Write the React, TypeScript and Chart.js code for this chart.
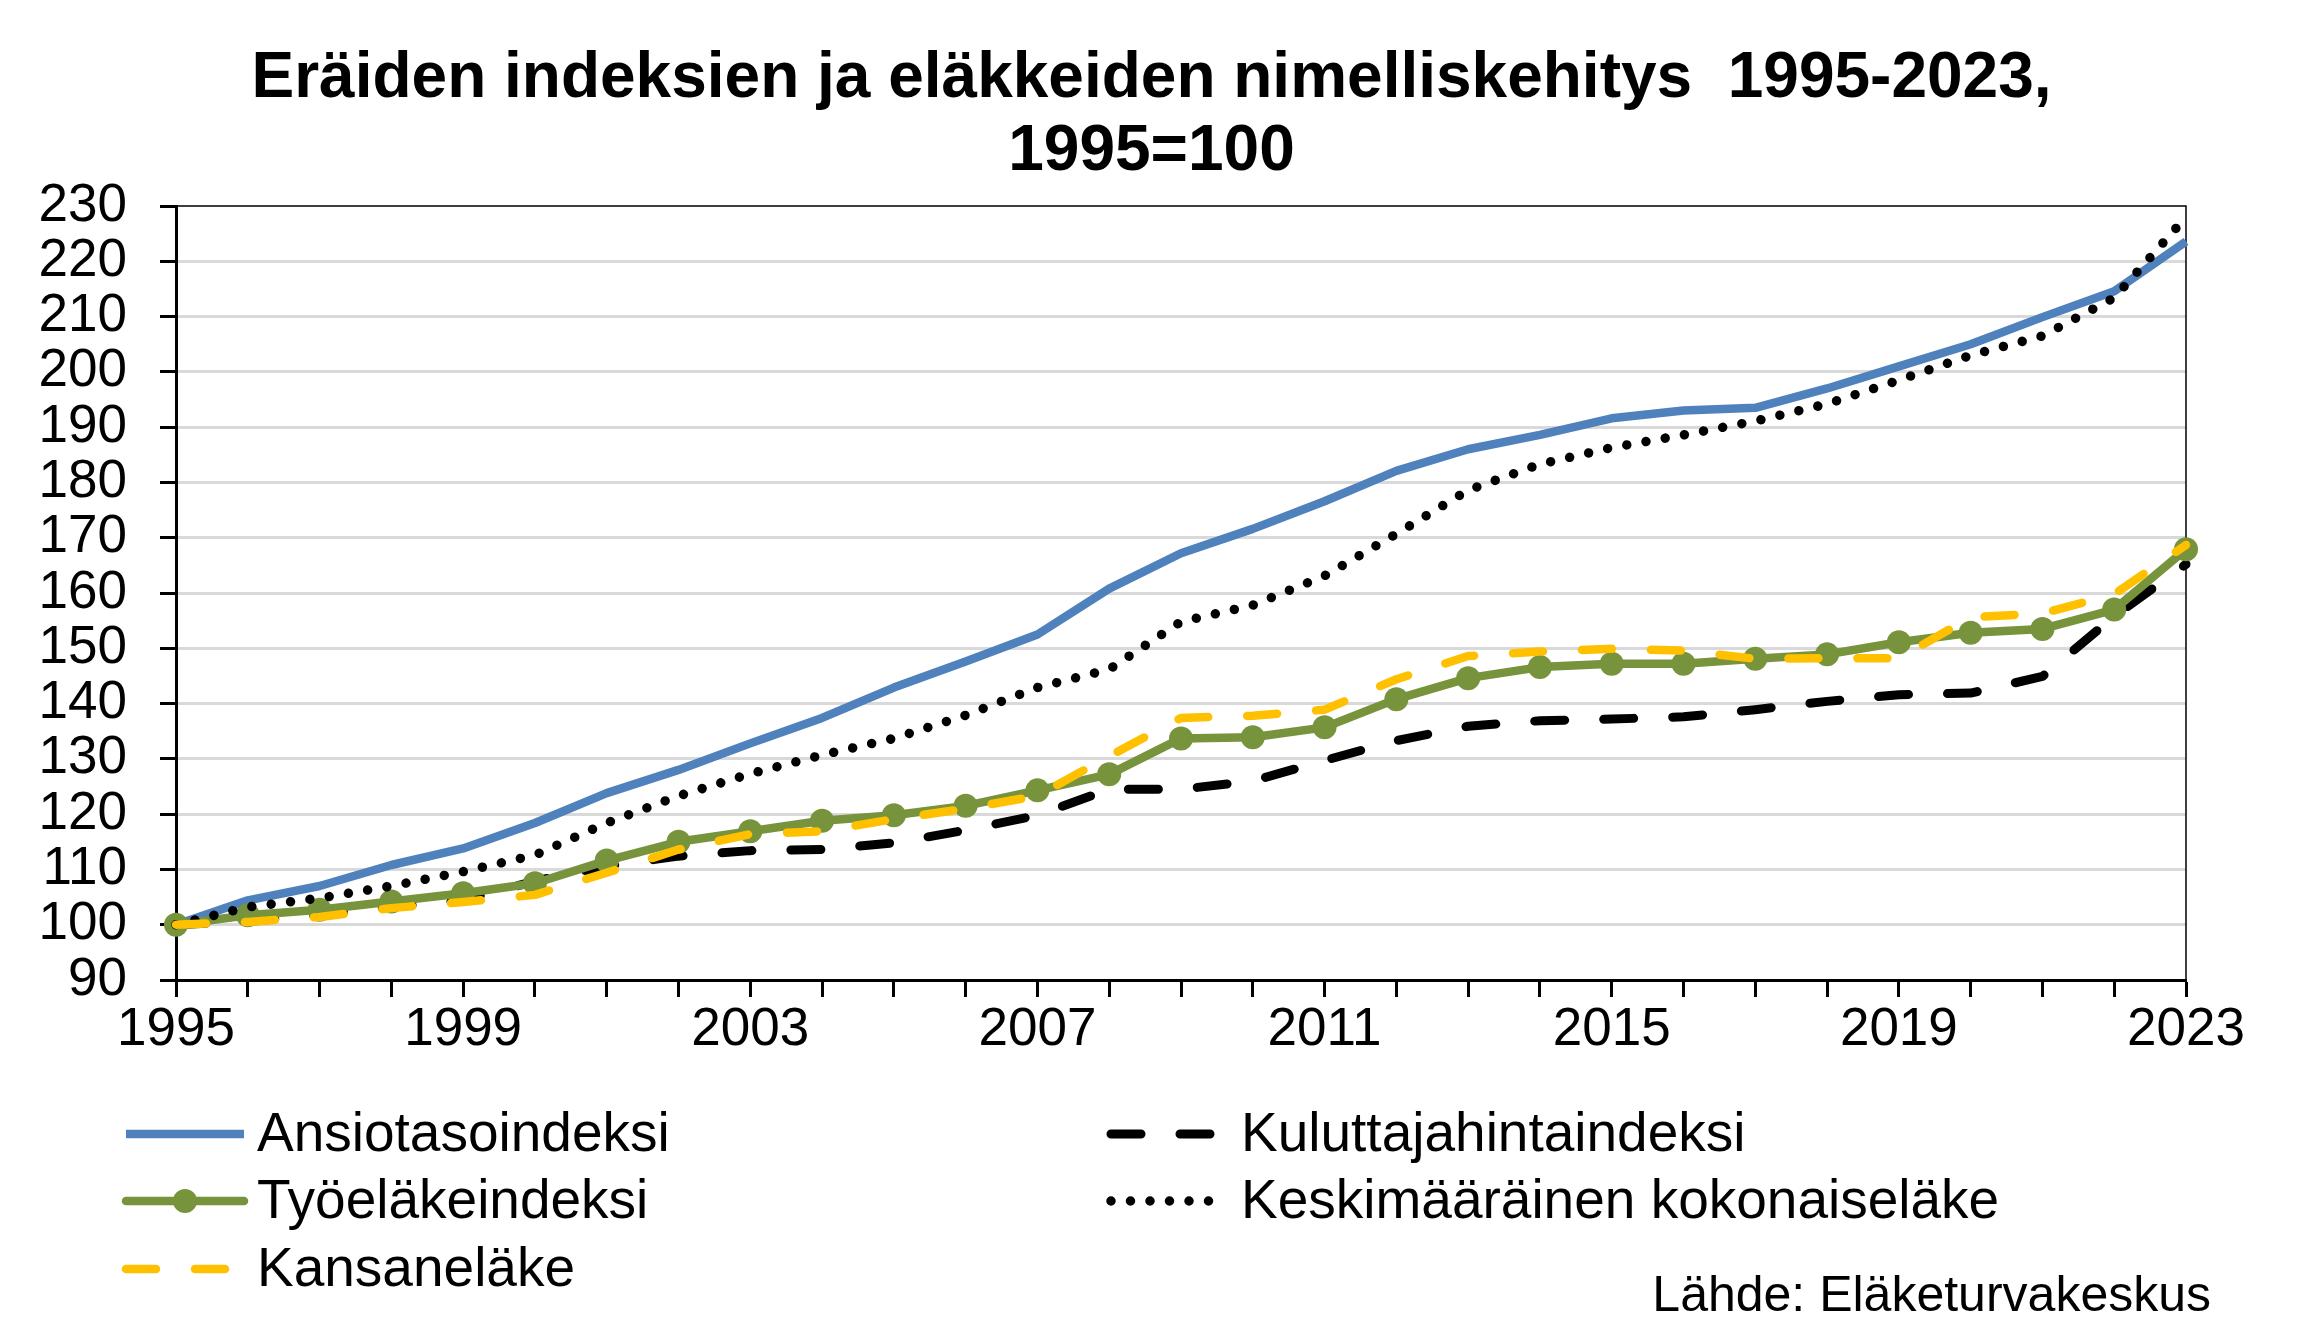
import React, { useEffect, useRef } from 'react';
import { Chart, registerables } from 'chart.js';

Chart.register(...registerables);

const W = 2303;
const H = 1332;
const FONT = '"Liberation Sans", Arial, Helvetica, sans-serif';

const years = [
  '1995', '1996', '1997', '1998', '1999', '2000', '2001', '2002', '2003', '2004',
  '2005', '2006', '2007', '2008', '2009', '2010', '2011', '2012', '2013', '2014',
  '2015', '2016', '2017', '2018', '2019', '2020', '2021', '2022', '2023',
];

const ansiotasoindeksi = [
  100, 104.4, 107.0, 110.8, 113.8, 118.4, 123.8, 128.0, 132.8, 137.4,
  142.9, 147.6, 152.5, 160.8, 167.2, 171.6, 176.6, 182.1, 186.0, 188.6,
  191.6, 193.0, 193.5, 197.0, 201.0, 205.0, 209.9, 214.6, 223.6,
];

const kuluttajahintaindeksi = [
  100, 100.6, 101.8, 103.2, 104.4, 107.9, 110.6, 112.4, 113.4, 113.6,
  114.8, 117.1, 119.8, 124.5, 124.5, 126.0, 129.7, 133.3, 135.9, 136.9,
  137.2, 137.6, 138.9, 140.4, 141.6, 141.9, 144.9, 155.8, 165.2,
];

const tyoelakeindeksi = [
  100, 101.7, 102.7, 104.2, 105.7, 107.5, 111.6, 115.0, 116.9, 118.8,
  119.8, 121.5, 124.3, 127.2, 133.7, 133.9, 135.7, 140.8, 144.6, 146.6,
  147.2, 147.2, 148.1, 148.9, 151.1, 152.8, 153.5, 157.0, 167.9,
];

const keskimaarainenKokonaiselake = [
  100, 103.2, 104.8, 107.0, 109.6, 112.6, 118.4, 123.3, 127.3, 130.7,
  133.7, 137.9, 142.9, 146.2, 154.8, 157.8, 163.1, 170.7, 178.6, 183.3,
  186.3, 188.6, 191.1, 194.2, 198.5, 203.0, 206.5, 213.4, 228.0,
];

const kansanelake = [
  100, 100.5, 101.4, 103.0, 104.1, 105.4, 109.4, 113.6, 116.4, 116.9,
  119.1, 121.0, 123.3, 130.5, 137.4, 137.8, 138.9, 144.4, 148.6, 149.4,
  149.9, 149.6, 148.1, 148.2, 148.2, 155.6, 156.3, 159.8, 168.7,
];

const seriesLabels = [
  'Ansiotasoindeksi',
  'Kuluttajahintaindeksi',
  'Työeläkeindeksi',
  'Keskimääräinen kokonaiseläke',
  'Kansaneläke',
];

const yMin = 90;
const yMax = 230;
const yStep = 10;
const xLabelEvery = 4;

const titleLines = ['Eräiden indeksien ja eläkkeiden nimelliskehitys  1995-2023,', '1995=100'];
const sourceText = 'Lähde: Eläketurvakeskus';

// chart area geometry
const AREA_LEFT = 176;
const AREA_RIGHT = 2186;
const AREA_TOP = 206;
const AREA_BOTTOM = 980;

// legend placement: [dataset index, column, row]
const legendSlots: [number, number, number][] = [
  [0, 0, 0],
  [1, 1, 0],
  [2, 0, 1],
  [3, 1, 1],
  [4, 0, 2],
];
const legendCols = [
  { x0: 126, x1: 244, tx: 257 },
  { x0: 1111, x1: 1214, tx: 1241 },
];
const legendRowsY = [1134, 1201, 1269];

const decorPlugin = {
  id: 'decor',
  beforeDatasetsDraw(chart: any) {
    const { ctx, chartArea: a } = chart;
    ctx.save();
    ctx.strokeStyle = '#000';
    ctx.lineWidth = 1.5;
    ctx.beginPath();
    ctx.moveTo(a.left, a.top);
    ctx.lineTo(a.right, a.top);
    ctx.lineTo(a.right, a.bottom);
    ctx.stroke();
    ctx.restore();
  },
  afterDraw(chart: any) {
    const { ctx } = chart;
    ctx.save();
    // title
    ctx.fillStyle = '#000';
    ctx.textAlign = 'center';
    ctx.textBaseline = 'alphabetic';
    ctx.font = `bold 64px ${FONT}`;
    ctx.fillText(titleLines[0], W / 2, 97);
    ctx.fillText(titleLines[1], W / 2, 170);

    // legend
    ctx.font = `55px ${FONT}`;
    ctx.textAlign = 'left';
    ctx.textBaseline = 'middle';
    legendSlots.forEach(([di, col, row]) => {
      const ds = chart.data.datasets[di];
      const c = legendCols[col];
      const y = legendRowsY[row];
      ctx.save();
      ctx.strokeStyle = ds.borderColor;
      ctx.lineWidth = ds.borderWidth;
      ctx.lineCap = ds.borderCapStyle || 'butt';
      ctx.setLineDash(ds.borderDash || []);
      ctx.beginPath();
      ctx.moveTo(c.x0, y);
      ctx.lineTo(c.x1, y);
      ctx.stroke();
      if (ds.pointRadius && ds.pointRadius > 0) {
        ctx.setLineDash([]);
        ctx.fillStyle = ds.pointBackgroundColor;
        ctx.beginPath();
        ctx.arc((c.x0 + c.x1) / 2, y, ds.pointRadius, 0, Math.PI * 2);
        ctx.fill();
      }
      ctx.restore();
      ctx.fillStyle = '#000';
      ctx.fillText(ds.label, c.tx, y + 2);
    });

    // source
    ctx.font = `50px ${FONT}`;
    ctx.textAlign = 'right';
    ctx.textBaseline = 'alphabetic';
    ctx.fillText(sourceText, 2211, 1311);
    ctx.restore();
  },
};

export default function App() {
  const canvasRef = useRef<HTMLCanvasElement | null>(null);

  useEffect(() => {
    if (!canvasRef.current) return;
    const tickFont = { family: FONT, size: 53 };
    const chart = new Chart(canvasRef.current, {
      type: 'line',
      data: {
        labels: years,
        datasets: [
          {
            label: seriesLabels[0],
            data: ansiotasoindeksi,
            borderColor: '#4f81bd',
            backgroundColor: '#4f81bd',
            borderWidth: 8.5,
            pointRadius: 0,
            tension: 0,
            borderCapStyle: 'butt',
            borderJoinStyle: 'round',
            order: 5,
            clip: false,
          },
          {
            label: seriesLabels[1],
            data: kuluttajahintaindeksi,
            borderColor: '#000000',
            backgroundColor: '#000000',
            borderWidth: 9,
            borderDash: [30, 39],
            borderCapStyle: 'round',
            borderJoinStyle: 'round',
            pointRadius: 0,
            tension: 0,
            order: 4,
            clip: false,
          },
          {
            label: seriesLabels[2],
            data: tyoelakeindeksi,
            borderColor: '#77933c',
            backgroundColor: '#77933c',
            pointBackgroundColor: '#77933c',
            pointBorderColor: '#77933c',
            pointBorderWidth: 0,
            pointRadius: 12,
            borderWidth: 8.5,
            tension: 0,
            borderCapStyle: 'round',
            borderJoinStyle: 'round',
            order: 3,
            clip: false,
          },
          {
            label: seriesLabels[3],
            data: keskimaarainenKokonaiselake,
            borderColor: '#000000',
            backgroundColor: '#000000',
            borderWidth: 9.5,
            borderDash: [0.001, 19.5],
            borderCapStyle: 'round',
            borderJoinStyle: 'round',
            pointRadius: 0,
            tension: 0,
            order: 2,
            clip: false,
          },
          {
            label: seriesLabels[4],
            data: kansanelake,
            borderColor: '#ffc000',
            backgroundColor: '#ffc000',
            borderWidth: 8.5,
            borderDash: [30, 39],
            borderCapStyle: 'round',
            borderJoinStyle: 'round',
            pointRadius: 0,
            tension: 0,
            order: 1,
            clip: false,
          },
        ],
      } as any,
      options: {
        responsive: false,
        maintainAspectRatio: false,
        animation: false,
        devicePixelRatio: 1,
        events: [],
        layout: {
          padding: { left: 0, top: AREA_TOP, right: W - AREA_RIGHT, bottom: 0 },
        },
        plugins: {
          legend: { display: false },
          title: { display: false },
          tooltip: { enabled: false },
        },
        scales: {
          x: {
            type: 'category',
            offset: false,
            grid: {
              display: true,
              drawOnChartArea: false,
              drawTicks: true,
              tickLength: 17,
              tickColor: '#000',
              tickWidth: 3,
              offset: false,
            },
            border: { display: true, color: '#000', width: 3 },
            ticks: {
              autoSkip: false,
              maxRotation: 0,
              minRotation: 0,
              padding: 2,
              color: '#000',
              font: tickFont,
              callback: (_v: any, i: number) => (i % xLabelEvery === 0 ? years[i] : ''),
            },
            afterFit: (s: any) => {
              s.height = H - AREA_BOTTOM;
            },
          },
          y: {
            min: yMin,
            max: yMax,
            grid: {
              color: (c: any) => (c.tick && c.tick.value === yMax ? 'rgba(0,0,0,0)' : '#d9d9d9'),
              lineWidth: 3,
              drawTicks: true,
              tickLength: 16,
              tickColor: '#000',
              tickWidth: 3,
            },
            border: { display: true, color: '#000', width: 3 },
            ticks: {
              stepSize: yStep,
              autoSkip: false,
              padding: 33,
              color: '#000',
              font: tickFont,
            },
            afterFit: (s: any) => {
              s.width = AREA_LEFT;
            },
          },
        },
      } as any,
      plugins: [decorPlugin],
    });
    return () => chart.destroy();
  }, []);

  return (
    <div style={{ position: 'absolute', left: 0, top: 0, width: W, height: H, background: '#fff' }}>
      <canvas ref={canvasRef} width={W} height={H} style={{ width: W, height: H, display: 'block' }} />
    </div>
  );
}
